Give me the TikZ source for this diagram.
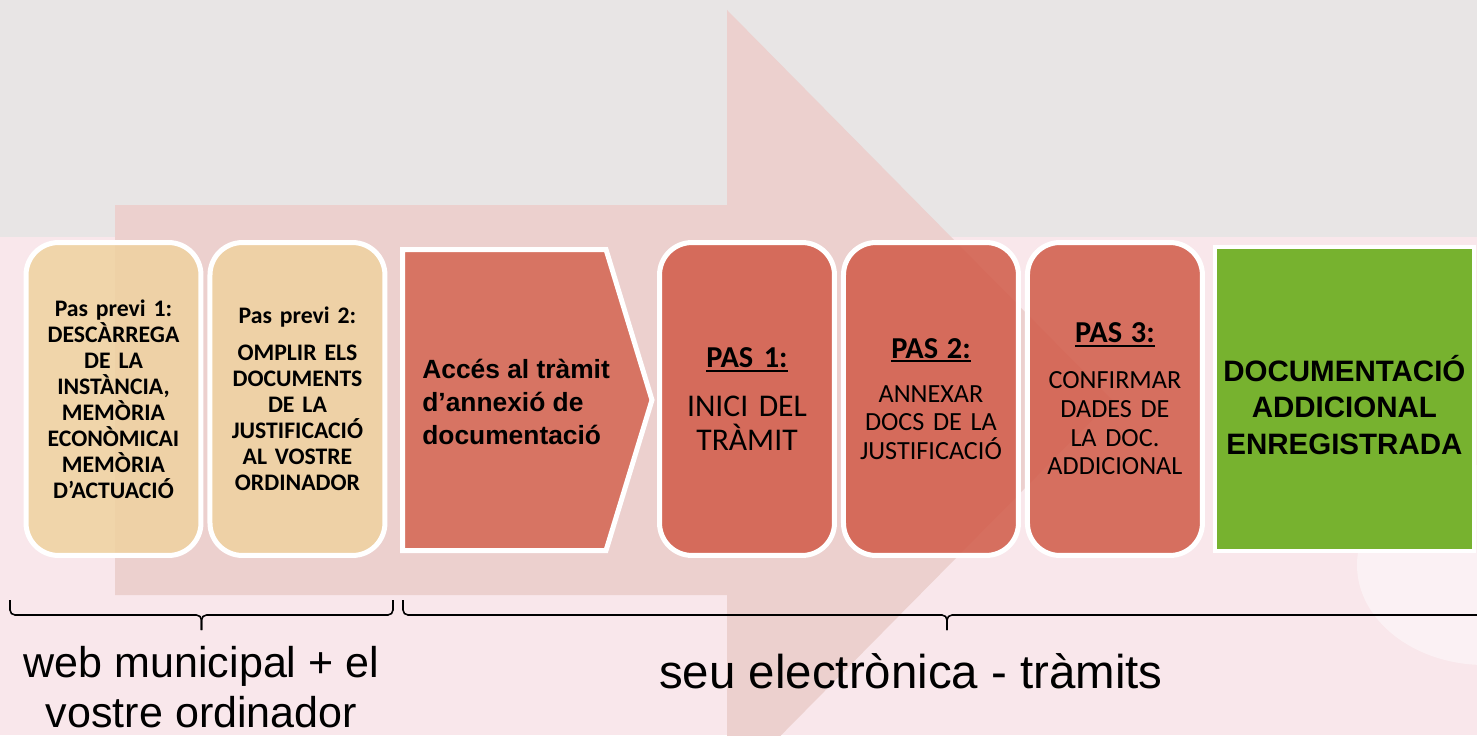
\documentclass[tikz,border=0pt]{standalone}
\usepackage{fontspec}
\setmainfont{Liberation Sans}
\newfontfamily\calibri[WordSpace=0.7]{Carlito}
\usetikzlibrary{positioning}

\definecolor{bggray}{HTML}{E8E5E5}
\definecolor{bgpink}{HTML}{F9E7EB}
\definecolor{arrowpink}{HTML}{ECD0CE}
\definecolor{prevtan}{HTML}{EFD29F}
\definecolor{pasred}{HTML}{D15A47}
\definecolor{accesred}{HTML}{D46451}
\definecolor{donegreen}{HTML}{77B22F}

\newcommand{\steptitle}[1]{{\bfseries\fontsize{17.3}{19}\selectfont\setbox0\hbox{#1}\rlap{\rule[-2.4pt]{\wd0}{1.1pt}}\box0}}

\begin{document}
\begin{tikzpicture}[x=0.02cm, y=0.02cm, node distance=0.08cm,
    prevbox/.style={rectangle, draw=white, line width=0.1cm, rounded corners=0.65cm, fill=prevtan, fill opacity=0.85, text opacity=1, minimum width=3.5cm, minimum height=6.26cm, inner xsep=0pt, text width=3.2cm, align=center, font=\calibri\bfseries\fontsize{13.5}{14.8}\selectfont},
    pasbox/.style={prevbox, fill=pasred, font=\calibri\fontsize{14.9}{16.3}\selectfont},
    donebox/.style={rectangle, draw=white, line width=0.08cm, fill=donegreen, minimum width=5.18cm, minimum height=6.08cm},
    bracket/.style={line width=0.9pt, rounded corners=0.1cm},
    place/.style={align=center, font=\fontsize{24.5}{28.4}\selectfont}]

    % background and big arrow
    \useasboundingbox (0,0) rectangle (1477,735);
    \clip (0,0) rectangle (1477,735);
    \fill [bgpink] (0,0) rectangle (1477,735);
    \fill [bggray] (0,498) rectangle (1477,735);
    \fill [white, opacity=0.45] (1485,170) ellipse [x radius=128, y radius=100];
    \fill [arrowpink] (115,140) -- (115,530) -- (727,530) -- (727,725) -- (1112,335) -- (727,-55) -- (727,140) -- cycle;

    % steps
    \node (prev1) [prevbox] at (113.5,336) {Pas previ 1:\\ DESCÀRREGA\\ DE LA\\ INSTÀNCIA,\\ MEMÒRIA\\ ECONÒMICAI\\ MEMÒRIA\\ D’ACTUACIÓ};
    \node (prev2) [prevbox, right=of prev1] {Pas previ 2:\\[6pt] OMPLIR ELS\\ DOCUMENTS\\ DE LA\\ JUSTIFICACIÓ\\ AL VOSTRE\\ ORDINADOR};
    \fill [accesred, fill opacity=0.85, draw=white, draw opacity=1, line width=0.1cm] (402.5,485.5) -- (606,485.5) -- (652,335) -- (606,184.5) -- (402.5,184.5) -- cycle;
    \node (acces) [anchor=west, align=left, inner sep=0pt, font=\bfseries\fontsize{15}{18.8}\selectfont] at (422,333) {Accés al tràmit\\ d’annexió de\\ documentació};
    \node (pas1) [pasbox, font=\calibri\fontsize{18}{19.3}\selectfont] at (747,336) {\steptitle{PAS 1:}\\[8.6pt] INICI DEL\\ TRÀMIT};
    \node (pas2) [pasbox, right=of pas1] {\steptitle{PAS 2:}\\[8.8pt] ANNEXAR\\ DOCS DE LA\\ JUSTIFICACIÓ};
    \node (pas3) [pasbox, right=of pas2] {\steptitle{PAS 3:}\\[9.8pt] CONFIRMAR\\ DADES DE\\ LA DOC.\\ ADDICIONAL};
    \node (done) [donebox, right=0.16cm of pas3] {};
    \node (donetext) [align=center, font=\bfseries\fontsize{16.8}{20.6}\selectfont] at ([yshift=-0.12cm]done.center) {DOCUMENTACIÓ\\ ADDICIONAL\\ ENREGISTRADA};

    % braces and where each part happens
    \draw [bracket] (10,135) -- (10,120) -- (201.5,120) -- (201.5,105);
    \draw [bracket] (393,135) -- (393,120) -- (201.5,120) -- (201.5,105);
    \draw [bracket] (403,135) -- (403,120) -- (947,120) -- (947,105);
    \draw [bracket] (1491,135) -- (1491,120) -- (947,120) -- (947,105);
    \node (web) [place] at (201.5,48) {web municipal + el\\ vostre ordinador};
    \node (seu) [place, font=\fontsize{27}{30}\selectfont] at (911,64) {seu electrònica - tràmits};

\end{tikzpicture}
\end{document}
